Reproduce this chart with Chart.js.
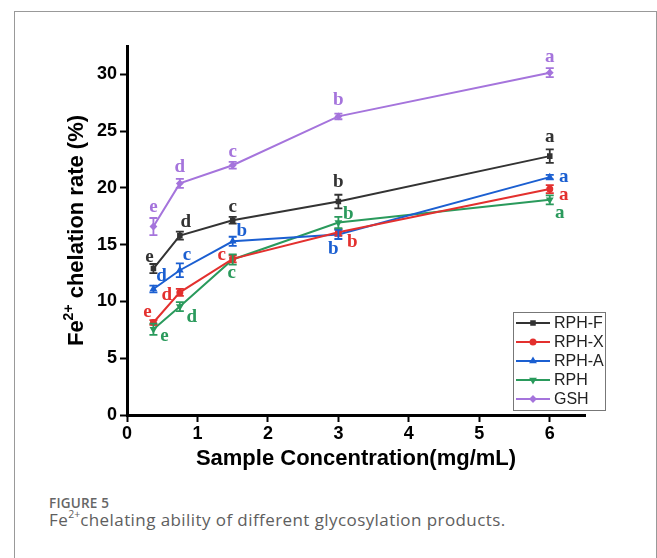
<!DOCTYPE html>
<html><head><meta charset="utf-8">
<script src="https://cdn.jsdelivr.net/npm/chart.js@4.4.1/dist/chart.umd.min.js"></script>
<style>
html,body{margin:0;padding:0;background:#fff;width:657px;height:558px;overflow:hidden;}
#frame{position:absolute;left:14px;top:11px;width:643px;height:600px;border:1px solid #999;box-sizing:border-box;}
#c{position:absolute;left:0;top:0;}
#fig{position:absolute;left:49px;top:494px;font-family:"Open Sans",sans-serif;font-size:13.5px;color:#666;font-weight:600;letter-spacing:0.2px;}
#cap{position:absolute;left:49px;top:508px;font-family:"Open Sans",sans-serif;font-size:17px;letter-spacing:0.42px;color:#5e5e5e;white-space:nowrap;font-weight:400;}
#cap sup{font-size:10.5px;vertical-align:8px;line-height:0;letter-spacing:0;}
</style></head>
<body>
<div id="frame"></div>
<canvas id="c" width="657" height="480"></canvas>
<div id="fig">FIGURE 5</div>
<div id="cap">Fe<sup>2+</sup>chelating ability of different glycosylation products.</div>
<script>
// ---- data ----
const concentrations = [0.375, 0.75, 1.5, 3, 6];
const seriesNames = ["RPH-F", "RPH-X", "RPH-A", "RPH", "GSH"];
const rphF = [12.9, 15.8, 17.15, 18.8, 22.8];
const rphX = [8.15, 10.8, 13.75, 16.1, 19.9];
const rphA = [11.1, 12.75, 15.3, 15.9, 20.95];
const rph  = [7.55, 9.55, 13.7, 16.95, 18.95];
const gsh  = [16.6, 20.4, 22.0, 26.3, 30.15];
const errF = [0.4, 0.35, 0.3, 0.6, 0.6];
const errX = [0.2, 0.3, 0.3, 0.3, 0.35];
const errA = [0.3, 0.6, 0.4, 0.4, 0.2];
const errR = [0.5, 0.4, 0.45, 0.5, 0.4];
const errG = [0.75, 0.4, 0.3, 0.25, 0.4];
const lettersF = ["e","d","c","b","a"];
const lettersX = ["e","d","c","b","a"];
const lettersA = ["d","c","b","b","a"];
const lettersR = ["e","d","c","b","a"];
const lettersG = ["e","d","c","b","a"];
const xTicks = [0,1,2,3,4,5,6];
const yTicks = [0,5,10,15,20,25,30];

// ---- styles / placement ----
const colors = ["#333333", "#e3302e", "#1b5fd1", "#2a9a5c", "#a574dc"];
const pointStyles = ["rect", "circle", "triangle", "triangle", "rectRot"];
const rotations = [0, 0, 0, 180, 0];
const letterOffsets = [
  [[-4,-11],[6,-14],[0,-13],[0,-19],[0,-19]],
  [[-6,-10],[-13,3],[-11,-4],[14,10],[14,6]],
  [[8,-13],[7,-15],[9,-10],[-5,15],[14,0]],
  [[11,7],[12,11],[-1,14],[10,-8],[10,13]],
  [[0,-19],[0,-16],[0,-13],[0,-16],[0,-16]]
];
const values = [rphF, rphX, rphA, rph, gsh];
const errors = [errF, errX, errA, errR, errG];
const letters = [lettersF, lettersX, lettersA, lettersR, lettersG];

const datasets = seriesNames.map((n,i)=>({
  label:n,
  data: concentrations.map((x,j)=>({x:x,y:values[i][j]})),
  borderColor:colors[i], backgroundColor:colors[i],
  borderWidth:2, pointStyle:pointStyles[i], rotation:rotations[i],
  pointRadius:2.5, pointHoverRadius:2.5, tension:0
}));

const extras = {
  id:'extras',
  afterDatasetsDraw(chart){
    const ctx = chart.ctx, xs = chart.scales.x, ys = chart.scales.y;
    ctx.save();
    values.forEach((vals,i)=>{
      ctx.strokeStyle = colors[i]; ctx.lineWidth = 1.8;
      vals.forEach((v,j)=>{
        const px = xs.getPixelForValue(concentrations[j]);
        const t = ys.getPixelForValue(v+errors[i][j]);
        const b = ys.getPixelForValue(v-errors[i][j]);
        ctx.beginPath();
        ctx.moveTo(px,t); ctx.lineTo(px,b);
        ctx.moveTo(px-4,t); ctx.lineTo(px+4,t);
        ctx.moveTo(px-4,b); ctx.lineTo(px+4,b);
        ctx.stroke();
      });
    });
    ctx.font = 'bold 19px "Liberation Serif", serif';
    ctx.textAlign='center'; ctx.textBaseline='middle';
    values.forEach((vals,i)=>{
      ctx.fillStyle = colors[i];
      vals.forEach((v,j)=>{
        const px = xs.getPixelForValue(concentrations[j]);
        const py = ys.getPixelForValue(v);
        const o = letterOffsets[i][j];
        ctx.fillText(letters[i][j], px+o[0], py+o[1]);
      });
    });
    ctx.restore();
  },
  afterDraw(chart){
    const ctx = chart.ctx, a = chart.chartArea;
    ctx.save();
    const lx=513, ly=312, lw=92, lh=98;
    ctx.fillStyle='#fff'; ctx.fillRect(lx,ly,lw,lh);
    ctx.strokeStyle='#777'; ctx.lineWidth=1; ctx.strokeRect(lx+0.5,ly+0.5,lw,lh);
    ctx.font='16px Arial, "Liberation Sans", sans-serif';
    ctx.textBaseline='middle'; ctx.textAlign='left';
    seriesNames.forEach((n,i)=>{
      const y = ly + 11 + i*19;
      ctx.strokeStyle=colors[i]; ctx.lineWidth=2;
      ctx.beginPath(); ctx.moveTo(lx+3,y); ctx.lineTo(lx+37,y); ctx.stroke();
      ctx.fillStyle=colors[i];
      Chart.helpers.drawPoint(ctx,{pointStyle:pointStyles[i],rotation:rotations[i],radius:2.5,borderWidth:1},lx+20,y);
      ctx.fillStyle='#222';
      ctx.fillText(n, lx+41, y+1);
    });
    ctx.fillStyle='#000';
    ctx.font='bold 22px Arial, "Liberation Sans", sans-serif';
    ctx.textAlign='center';
    ctx.fillText('Sample Concentration(mg/mL)', (a.left+a.right)/2, 459);
    ctx.translate(77,(a.top+a.bottom)/2);
    ctx.rotate(-Math.PI/2);
    const big='bold 22px Arial, "Liberation Sans", sans-serif';
    const small='bold 14px Arial, "Liberation Sans", sans-serif';
    ctx.font=big; const w1=ctx.measureText('Fe').width;
    const w3=ctx.measureText(' chelation rate (%)').width;
    ctx.font=small; const w2=ctx.measureText('2+').width;
    let x0=-(w1+w2+w3)/2;
    ctx.textAlign='left';
    ctx.font=big; ctx.fillText('Fe',x0,0);
    ctx.font=small; ctx.fillText('2+',x0+w1,-8);
    ctx.font=big; ctx.fillText(' chelation rate (%)',x0+w1+w2,0);
    ctx.restore();
  }
};

const tickFont = {family:'Arial, "Liberation Sans", sans-serif', size:18, weight:'bold'};
new Chart(document.getElementById('c'),{
  type:'line',
  data:{datasets},
  options:{
    responsive:false, animation:false, devicePixelRatio:1,
    layout:{padding:{left:67,right:72,top:46,bottom:15}},
    plugins:{legend:{display:false},tooltip:{enabled:false}},
    scales:{
      x:{type:'linear',min:0,max:6.5,
        afterBuildTicks:s=>{s.ticks=xTicks.map(v=>({value:v}));},
        afterFit:s=>{s.height=50;},
        ticks:{font:tickFont,color:'#000',padding:1,maxRotation:0},
        grid:{display:true,drawOnChartArea:false,drawTicks:true,tickLength:7,tickWidth:2,tickColor:'#000'},
        border:{display:true,width:3,color:'#000'}},
      y:{type:'linear',min:0,max:32.5,
        afterBuildTicks:s=>{s.ticks=yTicks.map(v=>({value:v}));},
        afterFit:s=>{s.width=60;},
        ticks:{font:tickFont,color:'#000',padding:3},
        grid:{display:true,drawOnChartArea:false,drawTicks:true,tickLength:7,tickWidth:2,tickColor:'#000'},
        border:{display:true,width:3,color:'#000'}}
    }
  },
  plugins:[extras]
});
</script>
</body></html>
